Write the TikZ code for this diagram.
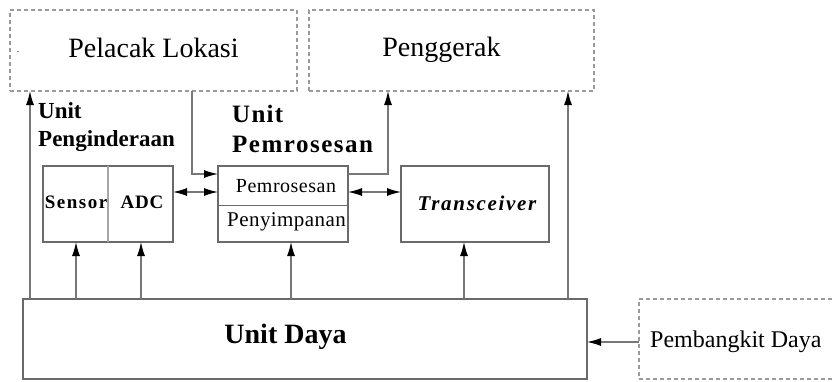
\documentclass[tikz,border=0pt]{standalone}
\usepackage{fontspec}
\setmainfont{Liberation Serif}
\usetikzlibrary{arrows.meta}
\definecolor{boxgray}{HTML}{6A6A6A}
\definecolor{dashgray}{HTML}{9A9A9A}
\definecolor{linegray}{HTML}{777777}
\tikzset{
  arrowtip/.tip={Latex[length=14pt,width=8pt,fill=black,color=black]}
}
\begin{document}
\begin{tikzpicture}[x=1pt,y=-1pt,
  solidbox/.style={draw=boxgray,line width=1.5pt,inner sep=0pt,outer sep=0pt},
  dashbox/.style={draw=dashgray,line width=1.2pt,dash pattern=on 4pt off 3pt,inner sep=0pt,outer sep=0pt},
  conn/.style={draw=linegray,line width=1.2pt,-arrowtip},
  dconn/.style={draw=linegray,line width=1.2pt,arrowtip-arrowtip},
  txt/.style={inner sep=0pt,anchor=base}]
\useasboundingbox (0,0) rectangle (833,381);
\fill[white] (0,0) rectangle (833,381);
% boxes
\node[dashbox,minimum width=287pt,minimum height=81pt] (pel) at (153.5,50.5) {};
\node[dashbox,minimum width=285pt,minimum height=81pt] (pen) at (451.5,50.5) {};
\node[solidbox,minimum width=130pt,minimum height=76pt] (sa) at (108,204) {};
\node[solidbox,minimum width=130pt,minimum height=76pt] (proc) at (283,204) {};
\node[solidbox,minimum width=148pt,minimum height=76pt] (trans) at (475,204) {};
\node[solidbox,minimum width=564pt,minimum height=80pt] (ud) at (305,339) {};
\node[dashbox,minimum width=221pt,minimum height=80pt] (pb) at (749.5,339) {};
% dividers
\draw[draw=boxgray!60,line width=1.2pt] (sa.north) -- (sa.south);
\draw[draw=boxgray,line width=1pt] ([yshift=-1pt]proc.west) -- ([yshift=-1pt]proc.east);
% texts
\node[txt] (tpel) at (153.5,57) {\fontsize{28}{30}\selectfont Pelacak Lokasi};
\node[txt] (tdot) at (18,52) {\fontsize{10}{12}\selectfont .};
\node[txt] (tpen) at (441.5,56) {\fontsize{28}{30}\selectfont Penggerak};
\node[txt,anchor=base west] (tui1) at (38,118) {\fontsize{23}{25}\selectfont\bfseries Unit};
\node[txt,anchor=base west] (tui2) at (38,146) {\fontsize{23}{25}\selectfont\bfseries Penginderaan};
\node[txt,anchor=base west] (tup1) at (232,122) {\fontsize{25}{27}\selectfont\bfseries\addfontfeature{LetterSpace=5}Unit};
\node[txt,anchor=base west] (tup2) at (232,152) {\fontsize{25}{27}\selectfont\bfseries\addfontfeature{LetterSpace=6}Pemrosesan};
\node[txt] (tsen) at (76,208) {\fontsize{19}{21}\selectfont\bfseries\addfontfeature{LetterSpace=8}Sensor};
\node[txt] (tadc) at (142,208) {\fontsize{19}{21}\selectfont\bfseries\addfontfeature{LetterSpace=4}ADC};
\node[txt] (tpro) at (286,192) {\fontsize{20}{22}\selectfont\addfontfeature{LetterSpace=2.5}Pemrosesan};
\node[txt] (tpny) at (286.5,226) {\fontsize{21}{23}\selectfont\addfontfeature{LetterSpace=2}Penyimpanan};
\node[txt] (ttr) at (477,210) {\fontsize{21}{23}\selectfont\bfseries\itshape\addfontfeature{LetterSpace=8}Transceiver};
\node[txt] (tud) at (285.5,343) {\fontsize{28}{30}\selectfont\bfseries Unit Daya};
\node[txt,anchor=base west] (tpb) at (650,347) {\fontsize{24}{26}\selectfont Pembangkit Daya};
% connectors
\draw[conn] ([xshift=-123.5pt]pel.south |- ud.north) -- ([xshift=-123.5pt]pel.south);
\draw[conn] ([xshift=116.5pt]pen.south |- ud.north) -- ([xshift=116.5pt]pen.south);
\draw[conn] ([xshift=38.5pt]pel.south) |- ([yshift=30pt]proc.west);
\draw[conn] ([yshift=30pt]proc.east) -| ([xshift=-63.5pt]pen.south);
\draw[dconn] ([yshift=12pt]sa.east) -- ([yshift=12pt]proc.west);
\draw[dconn] ([yshift=12pt]proc.east) -- ([yshift=12pt]trans.west);
\draw[conn] ([xshift=-32pt]sa.south |- ud.north) -- ([xshift=-32pt]sa.south);
\draw[conn] ([xshift=33pt]sa.south |- ud.north) -- ([xshift=33pt]sa.south);
\draw[conn] ([xshift=8pt]proc.south |- ud.north) -- ([xshift=8pt]proc.south);
\draw[conn] ([xshift=-11pt]trans.south |- ud.north) -- ([xshift=-11pt]trans.south);
\draw[conn] ([yshift=-3pt]pb.west) -- ([yshift=-3pt]ud.east);
\end{tikzpicture}
\end{document}
